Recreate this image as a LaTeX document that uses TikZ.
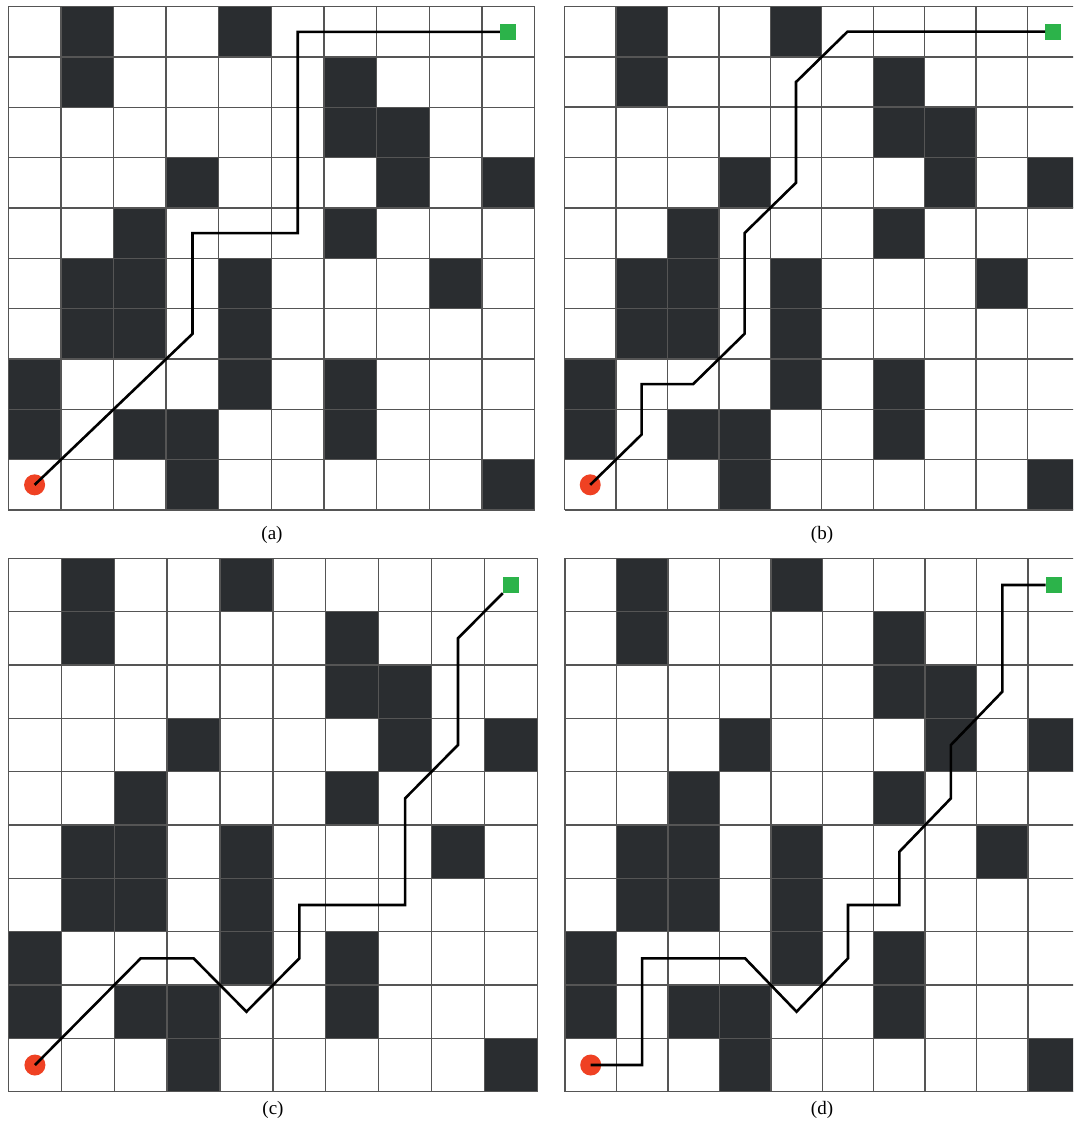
\documentclass[tikz,border=0pt]{standalone}
\usepackage{fontspec}
\setmainfont{Liberation Serif}
\definecolor{obstc}{RGB}{42,45,48}
\definecolor{startc}{RGB}{239,65,35}
\definecolor{goalc}{RGB}{44,179,74}
\definecolor{gridc}{RGB}{85,85,85}
\tikzset{
  obst/.style={fill=obstc},
  gridln/.style={draw=gridc, line width=1.4pt},
  pathln/.style={draw=black, line width=2.6pt, line join=miter},
  startdot/.style={circle, fill=startc, minimum size=21pt, inner sep=0pt},
  goalsq/.style={rectangle, fill=goalc, minimum size=16pt, inner sep=0pt},
  lbl/.style={font=\fontsize{19}{22}\selectfont, inner sep=0pt}
}
% #1 name, #2 x0, #3 y0, #4 cell width, #5 cell height
\newcommand\drawpanel[5]{%
  \begin{scope}[shift={(#2,#3)}]
    \fill[white] (0,0) rectangle ({10*#4},{10*#5});
    \foreach \c/\r in {1/0,4/0,1/1,6/1,6/2,7/2,3/3,7/3,9/3,2/4,6/4,1/5,2/5,4/5,8/5,1/6,2/6,4/6,0/7,4/7,6/7,0/8,2/8,3/8,6/8,3/9,9/9}{
      \fill[obst] ({\c*#4},{\r*#5}) rectangle ++(#4,#5);
    }
    \foreach \i in {0,...,10}{
      \draw[gridln] ({\i*#4},0) -- ({\i*#4},{10*#5});
      \draw[gridln] (0,{\i*#5}) -- ({10*#4},{\i*#5});
    }
    \foreach \c in {0,...,9}{
      \foreach \r in {0,...,9}{
        \coordinate (#1-\c-\r) at ({(\c+0.5)*#4},{(\r+0.5)*#5});
      }
    }
  \end{scope}
}
\begin{document}
\begin{tikzpicture}[x=1pt,y=-1pt]
\useasboundingbox (0,0) rectangle (1073,1131);
\clip (0,0) rectangle (1073,1131);
\fill[white] (0,0) rectangle (1073,1131);

% panels
\drawpanel{a}{8.3}{6.7}{52.62}{50.33}
\drawpanel{b}{564.5}{6.5}{51.45}{50.35}
\drawpanel{c}{8.5}{558.3}{52.88}{53.34}
\drawpanel{d}{565}{558.3}{51.45}{53.34}

% start and goal markers
\foreach \p in {a,b,c,d}{
  \node[startdot] (\p-start) at (\p-0-9) {};
  \node[goalsq] (\p-goal) at (\p-9-0) {};
}

% paths
\draw[pathln] (a-start.center) -- (a-3-6) -- (a-3-4) -- (a-5-4) -- (a-5-0) -- (a-goal);
\draw[pathln] (b-start.center) -- (b-1-8) -- (b-1-7) -- (b-2-7) -- (b-3-6) -- (b-3-4) -- (b-4-3) -- (b-4-1) -- (b-5-0) -- (b-goal);
\draw[pathln] (c-start.center) -- (c-2-7) -- (c-3-7) -- (c-4-8) -- (c-5-7) -- (c-5-6) -- (c-7-6) -- (c-7-4) -- (c-8-3) -- (c-8-1) -- (c-goal);
\draw[pathln] (d-start.center) -- (d-1-9) -- (d-1-7) -- (d-3-7) -- (d-4-8) -- (d-5-7) -- (d-5-6) -- (d-6-6) -- (d-6-5) -- (d-7-4) -- (d-7-3) -- (d-8-2) -- (d-8-0) -- (d-goal);

% labels
\node[lbl] (la) at (272,535) {(a)};
\node[lbl] (lb) at (822,535) {(b)};
\node[lbl] (lc) at (273,1110) {(c)};
\node[lbl] (ld) at (822,1110) {(d)};
\end{tikzpicture}
\end{document}
